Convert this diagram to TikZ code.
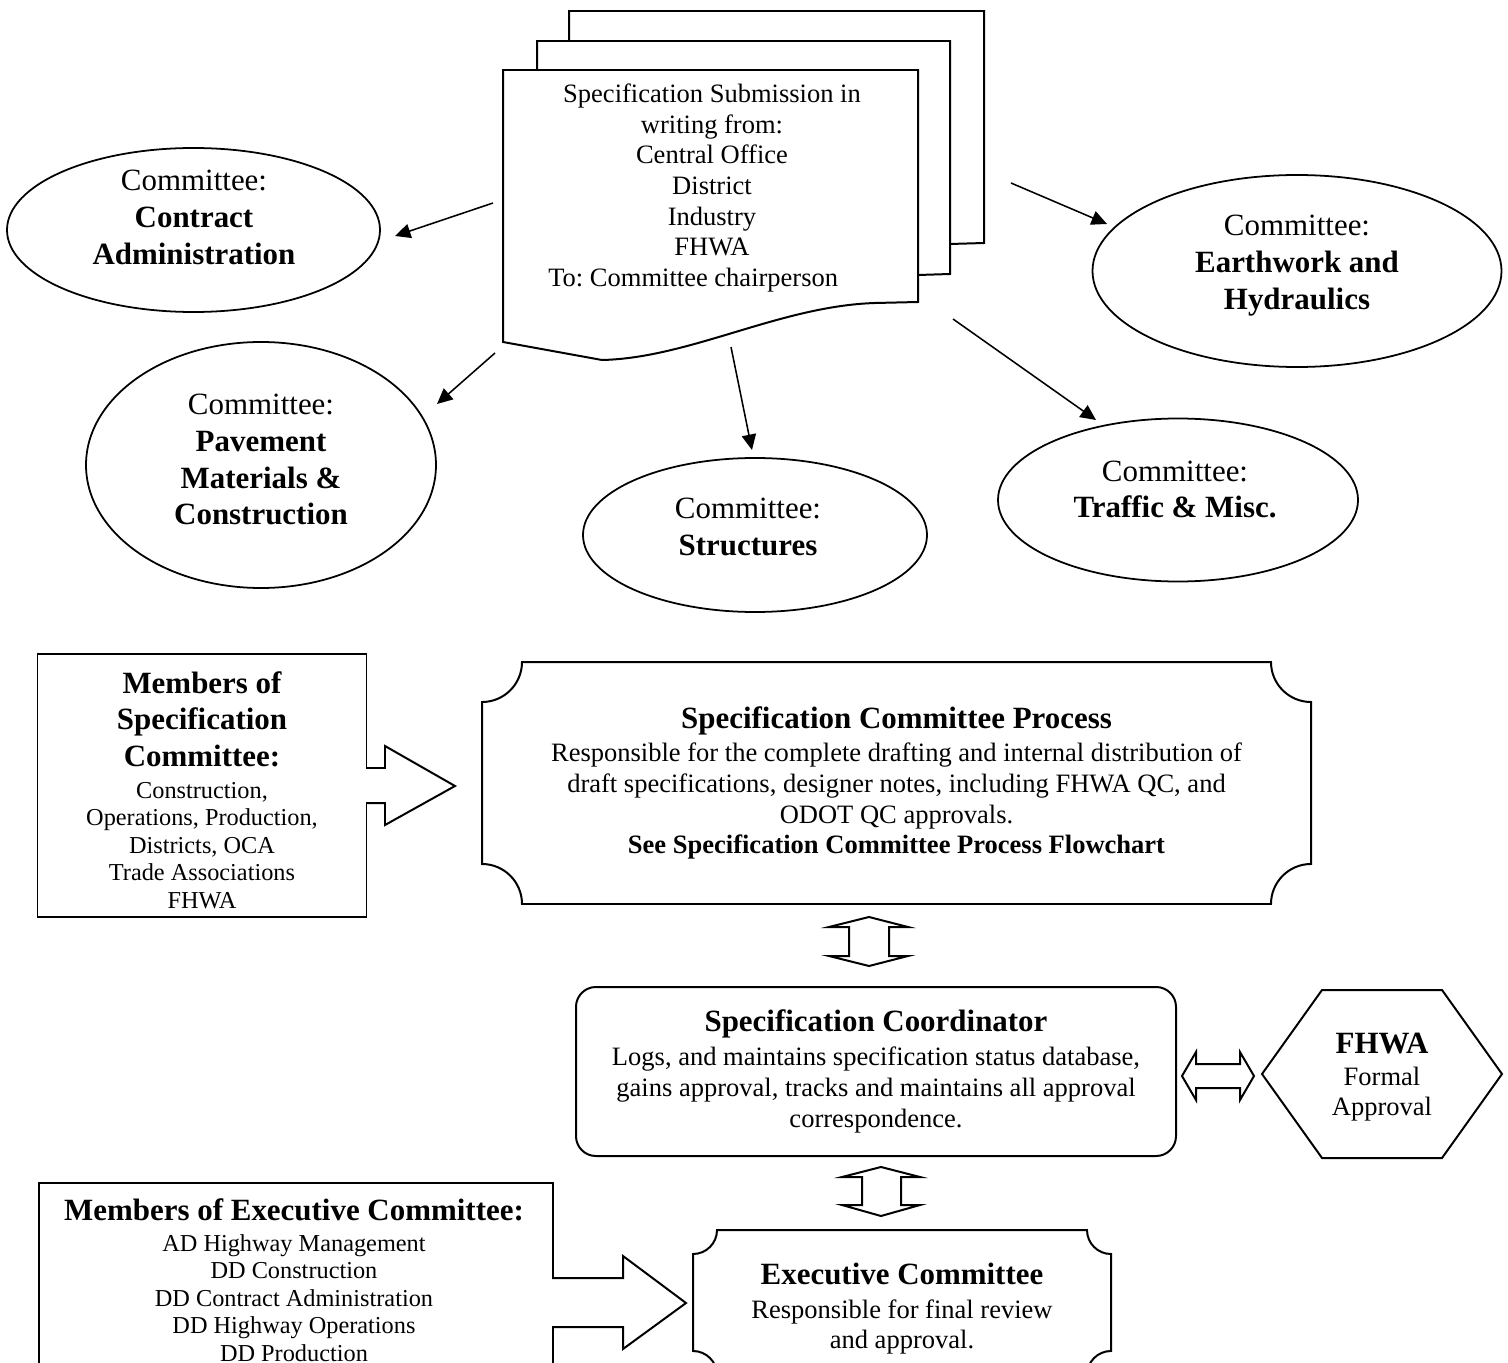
\documentclass[tikz,border=0pt]{standalone}
\usepackage{fontspec}
\setmainfont{Liberation Serif}
\usetikzlibrary{shapes.geometric,arrows.meta,calc}
\newcommand\fsz[2]{\fontsize{#1}{#2}\selectfont\lineskiplimit=-50pt\relax}
\newcommand\hd[1]{{\fsz{14}{16.1}\bfseries #1}}
\newcommand\plaque[2]{%
 \draw ($(#1.north west)+(0,#2)$) .. controls +(0.552*#2,0) and +(0,0.552*#2) .. ($(#1.north west)+(#2,0)$)
   -- ($(#1.north east)+(-#2,0)$) .. controls +(0,0.552*#2) and +(-0.552*#2,0) .. ($(#1.north east)+(0,#2)$)
   -- ($(#1.south east)+(0,-#2)$) .. controls +(-0.552*#2,0) and +(0,-0.552*#2) .. ($(#1.south east)+(-#2,0)$)
   -- ($(#1.south west)+(#2,0)$) .. controls +(0,-0.552*#2) and +(0.552*#2,0) .. ($(#1.south west)+(0,-#2)$)
   -- cycle;}
\begin{document}
\frenchspacing
\begin{tikzpicture}[x=0.4525pt,y=-0.4525pt,line width=0.9pt,
  every node/.style={inner sep=0pt, align=center, font=\fsz{12}{13.9}},
  comm/.style={ellipse, draw, line width=0.8pt},
  ctext/.style={font=\fsz{14}{16.7}},
  conn/.style={line width=0.7pt, -{Triangle[length=7pt,width=6.5pt]}},
  ]
\useasboundingbox (0,0) rectangle (1508,1363);
\clip (0,0) rectangle (1508,1363);

% document stack
\draw (569,41) -- (569,11) -- (984,11) -- (984,243) -- (950,244);
\draw (537,70) -- (537,41) -- (950,41) -- (950,274) -- (918,275);
\draw[fill=white] (503,70) -- (918,70) -- (918,302) -- (875,303) .. controls (780,306) and (690,358) .. (602,360) -- (503,342) -- cycle;
\node (doc) at (712,188) {Specification Submission in\\writing from:\\Central Office\\District\\Industry\\FHWA\\To: Committee chairperson\hspace*{17pt}};

% committees
\node[comm, minimum width=373*0.4525pt, minimum height=164*0.4525pt] (ca) at (193.5,230) {};
\node[ctext] (cat) at (194,217.5) {Committee:\\\textbf{Contract}\\\textbf{Administration}};
\node[comm, minimum width=350*0.4525pt, minimum height=246*0.4525pt] (pmc) at (261,465) {};
\node[ctext] (pmct) at (261,459.5) {Committee:\\\textbf{Pavement}\\\textbf{Materials \&}\\\textbf{Construction}};
\node[comm, minimum width=344*0.4525pt, minimum height=154*0.4525pt] (st) at (755,535) {};
\node[ctext] (stt) at (748,527) {Committee:\\\textbf{Structures}};
\node[comm, minimum width=409*0.4525pt, minimum height=192*0.4525pt] (eh) at (1297,271) {};
\node[ctext] (eht) at (1297,266) {Committee:\\\textbf{Earthwork and}\\\textbf{Hydraulics}};
\node[comm, minimum width=360*0.4525pt, minimum height=163*0.4525pt] (tm) at (1178,500) {};
\node[ctext] (tmt) at (1175,489.5) {Committee:\\\textbf{Traffic \& Misc.}};

% connectors
\coordinate (a1s) at (493,203); \coordinate (a1e) at (395,236);
\coordinate (a2s) at (495,353); \coordinate (a2e) at (437,404);
\coordinate (a3s) at (731,347); \coordinate (a3e) at (752,450);
\coordinate (a4s) at (1011,183); \coordinate (a4e) at (1107,224);
\coordinate (a5s) at (953,319); \coordinate (a5e) at (1096,420);
\draw[conn] (a1s) -- (a1e);
\draw[conn] (a2s) -- (a2e);
\draw[conn] (a3s) -- (a3e);
\draw[conn] (a4s) -- (a4e);
\draw[conn] (a5s) -- (a5e);

% members of specification committee
\node[draw, minimum width=329*0.4525pt, minimum height=263*0.4525pt] (msc) at (202,785.5) {};
\node[font=\fsz{11}{12.4}] (msct) at (202,790) {\hd{Members of}\\[4.1pt]\hd{Specification}\\[4.1pt]\hd{Committee:}\\[2.1pt]Construction,\\Operations, Production,\\Districts, OCA\\Trade Associations\\FHWA};
\fill[white] (360,769) rectangle (372,802);
\draw (366,768) -- (385,768) -- (385,746) -- (455,786) -- (385,825) -- (385,803) -- (366,803);

% specification committee process
\node[minimum width=827*0.4525pt, minimum height=240*0.4525pt] (scp) at (896.5,783)
 {\hd{Specification Committee Process}\\[1.1pt]Responsible for the complete drafting and internal distribution of\\draft specifications, designer notes, including FHWA QC, and\\ODOT QC approvals.\\\textbf{See Specification Committee Process Flowchart}};
\plaque{scp}{40}

% double arrow 1
\draw (869,917) -- (908,927) -- (889,927) -- (889,956) -- (908,956) -- (869,966) -- (829,956) -- (849,956) -- (849,927) -- (829,927) -- cycle;

% coordinator
\node[draw, rounded corners=9pt, minimum width=600*0.4525pt, minimum height=169*0.4525pt] (sc) at (876,1071.5)
 {\hd{Specification Coordinator}\\[1.6pt]Logs, and maintains specification status database,\\gains approval, tracks and maintains all approval\\correspondence.};

% horizontal double arrow
\draw (1182,1076) -- (1196,1052) -- (1196,1064) -- (1240,1064) -- (1240,1052) -- (1254,1076) -- (1240,1100) -- (1240,1088) -- (1196,1088) -- (1196,1100) -- cycle;

% FHWA
\node (fh) at (1382,1077) {\hd{FHWA}\\[0.6pt]Formal\\Approval};
\draw ($(fh)+(-120,-3)$) -- ($(fh)+(-60,-87)$) -- ($(fh)+(60,-87)$) -- ($(fh)+(120,-3)$) -- ($(fh)+(60,81)$) -- ($(fh)+(-60,81)$) -- cycle;

% double arrow 2
\draw (881,1167) -- (920,1177) -- (901,1177) -- (901,1205) -- (920,1205) -- (881,1216) -- (842,1205) -- (862,1205) -- (862,1177) -- (842,1177) -- cycle;

% members of executive committee
\node[draw, anchor=north west, minimum width=514*0.4525pt, minimum height=260*0.4525pt] (mec) at (38,1182) {};
\node[anchor=north, font=\fsz{11}{12.4}] (mect) at (294,1198)
 {\hd{Members of Executive Committee:}\\[1.5pt]AD Highway Management\\DD Construction\\DD Contract Administration\\DD Highway Operations\\DD Production};
\fill[white] (546,1279) rectangle (558,1326);
\draw (552,1278) -- (623,1278) -- (623,1256) -- (686,1303) -- (623,1349) -- (623,1327) -- (552,1327);

% executive committee
\node[minimum width=416*0.4525pt, minimum height=143*0.4525pt] (ec) at (902,1302.5) {};
\node (ect) at (902,1309) {\hd{Executive Committee}\\[1.1pt]Responsible for final review\\and approval.};
\plaque{ec}{24}
\end{tikzpicture}
\end{document}
